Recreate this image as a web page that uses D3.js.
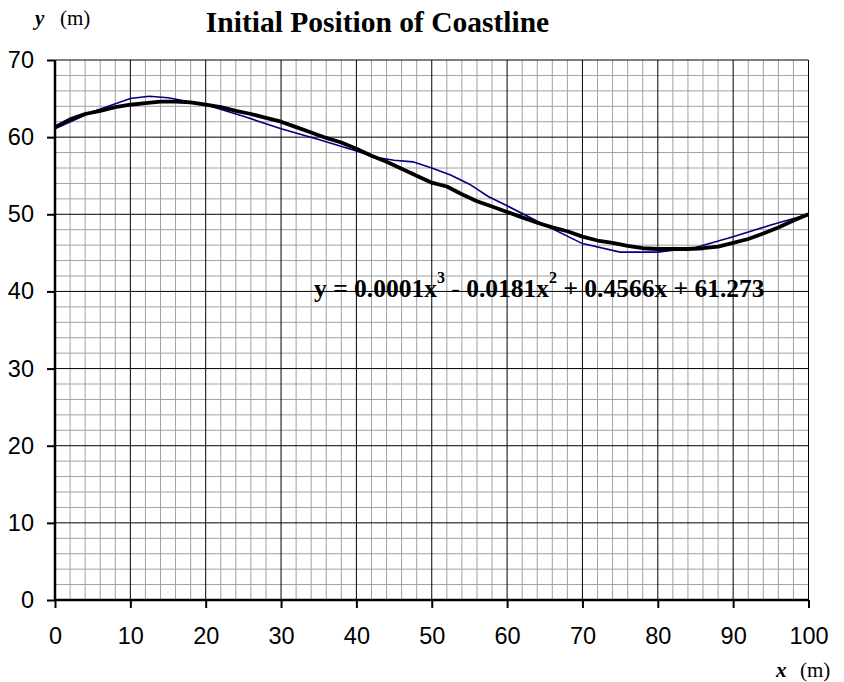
<!DOCTYPE html>
<html>
  <head>
    <title>Initial Position of Coastline</title>
    <script src="https://cdn.jsdelivr.net/npm/d3@7"></script>
    <style>
      body { margin: 0; background: #fff; }
    </style>
  </head>
  <body>
    <div id="main"></div>
    <script>
      var WIDTH = 844, HEIGHT = 682;
      var LEFT = 55, RIGHT = 808.5, TOP = 60, BOTTOM = 600;

      // measured coastline (thin blue)
      var measuredX = [0, 5, 10, 12.5, 15, 20, 25, 30, 35, 40, 42.5, 45, 47.5, 50, 52.5, 55, 57.5, 60, 65, 70, 75, 80, 85, 90, 95, 100];
      var measuredY = [61.1, 63.3, 65.0, 65.3, 65.1, 64.2, 62.7, 61.1, 59.7, 58.2, 57.4, 57.0, 56.8, 56.0, 55.1, 53.9, 52.3, 51.1, 48.6, 46.2, 45.1, 45.1, 45.7, 47.1, 48.6, 50.0];

      // initial coastline (thick black)
      var initialX = [0, 2, 4, 6, 8, 10, 12, 14, 16, 18, 20, 22, 24, 26, 28, 30, 32, 34, 36, 38, 40, 42, 44, 46, 48, 50,
                      52, 54, 56, 58, 60, 62, 64, 66, 68, 70, 72, 74, 76, 78, 80, 82, 84, 86, 88, 90, 92, 94, 96, 98, 100];
      var initialY = [61.3, 62.3, 63.0, 63.4, 63.9, 64.2, 64.4, 64.6, 64.6, 64.5, 64.2, 63.9, 63.4, 63.0, 62.5, 62.0, 61.3, 60.6, 59.9, 59.3, 58.5, 57.6, 56.8, 55.9, 55.0, 54.1,
                      53.6, 52.6, 51.7, 51.0, 50.3, 49.6, 48.9, 48.3, 47.8, 47.1, 46.6, 46.3, 45.9, 45.6, 45.5, 45.5, 45.5, 45.6, 45.8, 46.3, 46.8, 47.5, 48.3, 49.2, 50.0];

      var xTicks = [0, 10, 20, 30, 40, 50, 60, 70, 80, 90, 100];
      var yTicks = [0, 10, 20, 30, 40, 50, 60, 70];

      var svg = d3.select('#main').append('svg')
                  .attr('width', WIDTH).attr('height', HEIGHT);

      var x = d3.scaleLinear().domain([0, 100]).range([LEFT, RIGHT]);
      var y = d3.scaleLinear().domain([0, 70]).range([BOTTOM, TOP]);

      // minor grid every 2 units
      svg.append('g').selectAll('line')
        .data(d3.range(2, 100, 2).filter(function(v) { return v % 10 !== 0; }))
        .enter().append('line')
          .attr('x1', function(d) { return x(d); }).attr('x2', function(d) { return x(d); })
          .attr('y1', TOP).attr('y2', BOTTOM)
          .attr('stroke', '#a0a0a0').attr('stroke-width', 1);
      svg.append('g').selectAll('line')
        .data(d3.range(2, 70, 2).filter(function(v) { return v % 10 !== 0; }))
        .enter().append('line')
          .attr('y1', function(d) { return y(d); }).attr('y2', function(d) { return y(d); })
          .attr('x1', LEFT).attr('x2', RIGHT)
          .attr('stroke', '#a0a0a0').attr('stroke-width', 1);

      // major grid
      svg.append('g').selectAll('line')
        .data(xTicks.slice(1))
        .enter().append('line')
          .attr('x1', function(d) { return x(d); }).attr('x2', function(d) { return x(d); })
          .attr('y1', TOP).attr('y2', BOTTOM)
          .attr('stroke', '#000').attr('stroke-width', 1);
      svg.append('g').selectAll('line')
        .data(yTicks.slice(1))
        .enter().append('line')
          .attr('y1', function(d) { return y(d); }).attr('y2', function(d) { return y(d); })
          .attr('x1', LEFT).attr('x2', RIGHT)
          .attr('stroke', '#000').attr('stroke-width', 1);

      // axes
      var xAxis = d3.axisBottom(x).tickValues(xTicks).tickSize(8).tickPadding(19);
      var yAxis = d3.axisLeft(y).tickValues(yTicks).tickSize(8).tickPadding(13);

      var gx = svg.append('g').attr('transform', 'translate(0,' + BOTTOM + ')').call(xAxis);
      var gy = svg.append('g').attr('transform', 'translate(' + LEFT + ',0)').call(yAxis);
      [gx, gy].forEach(function(g) {
        g.select('.domain').attr('stroke-width', 2.5);
        g.selectAll('.tick line').attr('stroke-width', 2);
        g.selectAll('.tick text')
          .attr('font-family', 'Liberation Sans, Arial, sans-serif')
          .attr('font-size', 23.5).attr('fill', '#000');
      });
      gy.select('.domain').attr('d', 'M0,' + BOTTOM + 'V' + TOP);
      gx.select('.domain').attr('d', 'M' + LEFT + ',0H' + RIGHT);

      // series
      var line = d3.line()
        .x(function(d) { return x(d[0]); })
        .y(function(d) { return y(d[1]); });

      svg.append('path')
        .datum(d3.zip(measuredX, measuredY))
        .attr('d', line)
        .attr('fill', 'none').attr('stroke', '#000080').attr('stroke-width', 1.6);

      svg.append('path')
        .datum(d3.zip(initialX, initialY))
        .attr('d', line)
        .attr('fill', 'none').attr('stroke', '#000').attr('stroke-width', 3.8)
        .attr('stroke-linejoin', 'round');

      // title and axis labels
      var serif = 'Liberation Serif, Times New Roman, serif';
      svg.append('text')
        .attr('x', 377.5).attr('y', 32)
        .attr('text-anchor', 'middle')
        .attr('font-family', serif).attr('font-weight', 'bold').attr('font-size', 29.5)
        .text('Initial Position of Coastline');

      var yl = svg.append('text').attr('x', 35).attr('y', 25)
        .attr('font-family', serif).attr('font-size', 21);
      yl.append('tspan').attr('font-weight', 'bold').attr('font-style', 'italic').text('y');
      yl.append('tspan').attr('x', 60).text('(m)');

      var xl = svg.append('text').attr('x', 776).attr('y', 677)
        .attr('font-family', serif).attr('font-size', 21);
      xl.append('tspan').attr('font-weight', 'bold').attr('font-style', 'italic').text('x');
      xl.append('tspan').attr('x', 800).text('(m)');

      // trendline equation
      var eq = svg.append('text').attr('x', 314).attr('y', 297)
        .attr('font-family', serif).attr('font-weight', 'bold').attr('font-size', 25.5);
      eq.append('tspan').text('y = 0.0001x');
      eq.append('tspan').attr('font-size', 16).attr('dy', -14).text('3');
      eq.append('tspan').attr('dy', 14).text(' - 0.0181x');
      eq.append('tspan').attr('font-size', 16).attr('dy', -14).text('2');
      eq.append('tspan').attr('dy', 14).text(' + 0.4566x + 61.273');
    </script>
  </body>
</html>
